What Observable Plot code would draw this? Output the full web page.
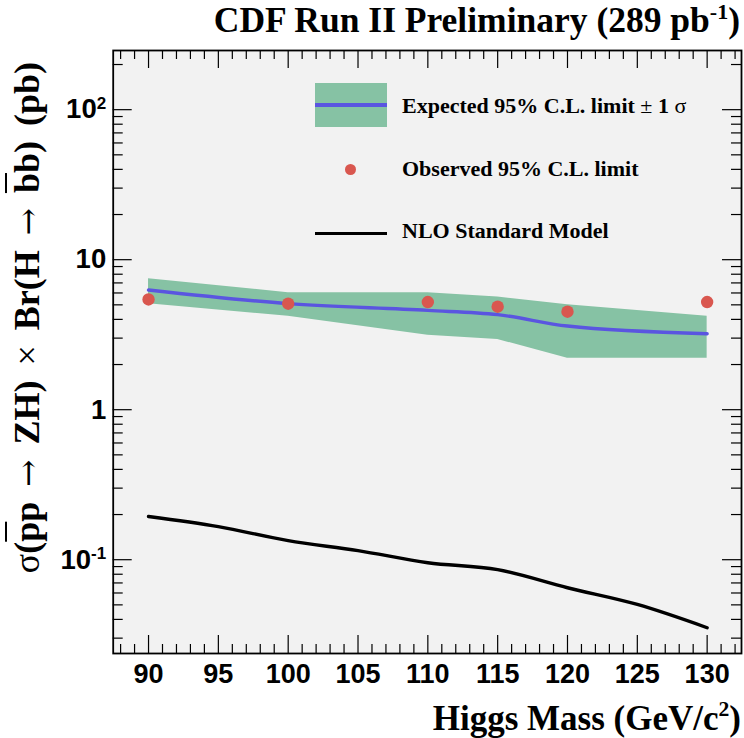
<!DOCTYPE html>
<html>
<head>
<meta charset="utf-8">
<script src="https://cdn.jsdelivr.net/npm/d3@7"></script>
<script src="https://cdn.jsdelivr.net/npm/@observablehq/plot@0.6"></script>
<style>
  html, body { margin: 0; padding: 0; background: #ffffff; }
  #wrap { position: relative; width: 744px; height: 738px; overflow: hidden; background: #ffffff; }
  #wrap svg { position: absolute; left: 0; top: 0; }
  .serif { font-family: "Liberation Serif", "Times New Roman", serif; font-weight: bold; color: #000; white-space: nowrap; position: absolute; line-height: 1; }
  .sym { font-weight: normal; }
  .arr { font-weight: normal; font-family: "DejaVu Serif", serif; font-size: 0.9em; }
  .ov { text-decoration: overline; text-decoration-thickness: 2px; }
  #title { right: 4px; top: 3.2px; font-size: 35.5px; }
  #xlab { right: 3px; top: 700.7px; font-size: 35px; }
  #ylab { left: 9px; top: 662px; width: 600px; height: 42px; font-size: 36px; word-spacing: 6px; text-align: right; transform-origin: 0 0; transform: rotate(-90deg); }
  .leg { left: 402px; font-size: 22px; }
  .sup { font-size: 0.62em; position: relative; top: -0.62em; }
</style>
</head>
<body>
<div id="wrap"></div>
<script>
// ---------- data ----------
const masses    = [90, 100, 110, 115, 120, 130];
const expected  = [6.28, 5.09, 4.59, 4.30, 3.61, 3.21];
const bandLow   = [5.09, 4.19, 3.14, 2.94, 2.20, 2.20];
const bandHigh  = [7.47, 6.03, 6.03, 5.63, 5.00, 4.20];
const observed  = [5.43, 5.09, 5.22, 4.86, 4.50, 5.22];

const smMasses  = [90, 95, 100, 105, 110, 115, 120, 125, 130];
const smXsec    = [0.194, 0.166, 0.134, 0.115, 0.0955, 0.0858, 0.065, 0.0503, 0.0352];

const xTickValues = [90, 95, 100, 105, 110, 115, 120, 125, 130];
const xTickLabels = ["90", "95", "100", "105", "110", "115", "120", "125", "130"];
const yTickValues = [0.1, 1, 10, 100];
const yTickLabels = ["10^-1", "1", "10", "10^2"];

const titleText = "CDF Run II Preliminary (289 pb";
const legendLabels = ["Expected 95% C.L. limit", "Observed 95% C.L. limit", "NLO Standard Model"];

// ---------- layout ----------
const W = 744, H = 738;
const mL = 112.7, mR = 3, mT = 50, mB = 85;
const iw = W - mL - mR, ih = H - mT - mB;
const xDomain = [87.47, 132.46];
const yDomain = [0.0237, 248];

const limits = masses.map((m, i) => ({m, lo: bandLow[i], hi: bandHigh[i], exp: expected[i], obs: observed[i]}));
const sm = smMasses.map((m, i) => ({m, v: smXsec[i]}));

// axis tick positions (minor ticks)
const xMinor = d3.range(88, 133, 1).filter(v => v % 5 !== 0);
const yMinor = [];
[0.01, 0.1, 1, 10, 100].forEach(dec => { for (let k = 2; k <= 9; k++) { const v = dec * k; if (v > yDomain[0] && v < yDomain[1]) yMinor.push(v); } });

const tickStyle = {stroke: "#000", strokeWidth: 1.2};

const chart = Plot.plot({
  width: W, height: H,
  marginLeft: mL, marginRight: mR, marginTop: mT, marginBottom: mB,
  style: {background: "transparent", fontFamily: "'Liberation Sans', Arial, sans-serif", color: "#000"},
  x: {domain: xDomain},
  y: {type: "log", domain: yDomain},
  marks: [
    Plot.frame({fill: "#f2f2f2", stroke: null}),
    Plot.areaY(limits, {x: "m", y1: "lo", y2: "hi", fill: "#86c2a4"}),
    Plot.line(limits, {x: "m", y: "exp", stroke: "#5a55e0", strokeWidth: 3.4, curve: "monotone-x"}),
    Plot.dot(limits, {x: "m", y: "obs", r: 6.2, fill: "#d9574f", stroke: null}),
    Plot.line(sm, {x: "m", y: "v", stroke: "#000", strokeWidth: 3.4, curve: "monotone-x"}),
    // inward ticks, bottom & top
    Plot.tickX(xTickValues, {x: d => d, insetTop: ih - 18, ...tickStyle}),
    Plot.tickX(xMinor, {x: d => d, insetTop: ih - 9, ...tickStyle}),
    Plot.tickX(xTickValues, {x: d => d, insetBottom: ih - 18, ...tickStyle}),
    Plot.tickX(xMinor, {x: d => d, insetBottom: ih - 9, ...tickStyle}),
    // inward ticks, left & right
    Plot.tickY(yTickValues, {y: d => d, insetRight: iw - 19, ...tickStyle}),
    Plot.tickY(yMinor, {y: d => d, insetRight: iw - 10, ...tickStyle}),
    Plot.tickY(yTickValues, {y: d => d, insetLeft: iw - 19, ...tickStyle}),
    Plot.tickY(yMinor, {y: d => d, insetLeft: iw - 10, ...tickStyle}),
    Plot.axisX({ticks: xTickValues, tickSize: 0, tickPadding: 10, fontSize: 27, fontWeight: "bold", label: null,
      tickFormat: d => xTickLabels[xTickValues.indexOf(d)]}),
    Plot.axisY({ticks: yTickValues, tickSize: 0, tickPadding: 7, fontSize: 27.5, fontWeight: "bold", label: null,
      tickFormat: d => yTickLabels[yTickValues.indexOf(d)]}),
    Plot.frame({stroke: "#000", strokeWidth: 1.8})
  ]
});

// superscripts on the y tick labels
d3.select(chart).selectAll("g[aria-label='y-axis tick label'] text").each(function () {
  const t = this.textContent;
  if (t.includes("^")) {
    const [base, exp] = t.split("^");
    const sel = d3.select(this);
    sel.text(null);
    sel.append("tspan").text(base);
    sel.append("tspan").attr("dy", "-0.55em").attr("font-size", "0.62em").text(exp);
  }
});

const wrap = document.getElementById("wrap");
wrap.appendChild(chart);

// titles and legend (HTML overlay)
wrap.insertAdjacentHTML("beforeend", `
  <div id="title" class="serif">${titleText}<span class="sup">-1</span>)</div>
  <div id="xlab" class="serif">Higgs Mass (GeV/c<span class="sup">2</span>)</div>
  <div id="ylab" class="serif"><span class="sym">σ</span>(<span class="ov">p</span>p <span class="arr">→</span> ZH) <span class="sym">×</span> Br(H <span class="arr">→</span> <span class="ov">b</span>b) (pb)</div>
  <div style="position:absolute;left:315px;top:83px;width:72px;height:44px;background:#86c2a4"></div>
  <div style="position:absolute;left:315px;top:103.3px;width:72px;height:3.4px;background:#5a55e0"></div>
  <div class="serif leg" style="top:94.6px">${legendLabels[0]} <span class="sym">±</span> 1 <span class="sym">σ</span></div>
  <div style="position:absolute;left:344.9px;top:163.5px;width:11.6px;height:11.6px;border-radius:50%;background:#d9574f"></div>
  <div class="serif leg" style="top:157.6px">${legendLabels[1]}</div>
  <div style="position:absolute;left:315px;top:231.6px;width:72px;height:3.4px;background:#000"></div>
  <div class="serif leg" style="top:219.6px">${legendLabels[2]}</div>
`);
</script>
</body>
</html>
